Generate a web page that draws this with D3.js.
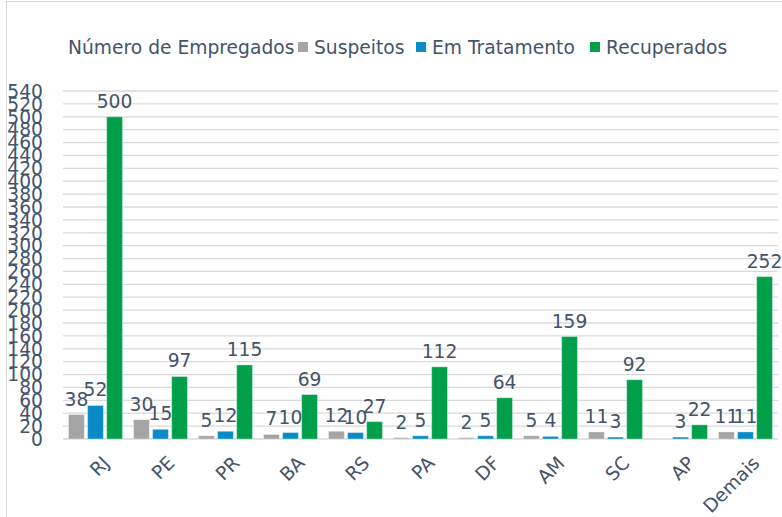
<!DOCTYPE html>
<html>
<head>
<meta charset="utf-8">
<script src="https://cdn.jsdelivr.net/npm/d3@7"></script>
<style>
  body { margin: 0; background: #fff; }
  text { font-family: "DejaVu Sans", Verdana, sans-serif; fill: #44546a; }
</style>
</head>
<body>
<script>
var width = 782,
  height = 517;

var categories = ["RJ", "PE", "PR", "BA", "RS", "PA", "DF", "AM", "SC", "AP", "Demais"];
var suspeitos = [38, 30, 5, 7, 12, 2, 2, 5, 11, null, 11];
var emTratamento = [52, 15, 12, 10, 10, 5, 5, 4, 3, 3, 11];
var recuperados = [500, 97, 115, 69, 27, 112, 64, 159, 92, 22, 252];
var seriesNames = ["Suspeitos", "Em Tratamento", "Recuperados"];
var yTicks = d3.range(0, 541, 20);

var colors = ["#a5a5a5", "#0a8bc8", "#00a04b"];
var series = [suspeitos, emTratamento, recuperados];
var fs = "18.7px";

var svg = d3.select("body").append("svg")
  .attr("width", width)
  .attr("height", height);

// chart border
svg.append("rect")
  .attr("x", 6.5).attr("y", 1.5)
  .attr("width", 800).attr("height", 600)
  .attr("fill", "none")
  .attr("stroke", "#d9d9d9");

var margin = {left: 63, right: 4, top: 91, bottom: 78};

var x = d3.scaleBand()
  .domain(categories)
  .range([margin.left, width - margin.right])
  .paddingInner(0.17)
  .paddingOuter(0.085);

var xs = d3.scaleBand()
  .domain(seriesNames)
  .range([0, x.bandwidth()])
  .paddingInner(0.17);

var y = d3.scaleLinear()
  .domain([0, 540])
  .range([height - margin.bottom, margin.top]);

// gridlines
svg.append("g")
  .selectAll("line")
  .data(yTicks)
  .enter().append("line")
    .attr("x1", margin.left)
    .attr("x2", width - margin.right)
    .attr("y1", function(d) { return y(d); })
    .attr("y2", function(d) { return y(d); })
    .attr("stroke", "#d9d9d9")
    .attr("stroke-width", 1.3);

// y labels
svg.append("g")
  .selectAll("text")
  .data(yTicks)
  .enter().append("text")
    .attr("x", 43)
    .attr("y", function(d) { return y(d); })
    .attr("dy", "0.36em")
    .attr("text-anchor", "end")
    .style("font-size", fs)
    .text(function(d) { return d; });

// bars
var rows = [];
categories.forEach(function(c, i) {
  series.forEach(function(s, j) {
    rows.push({cat: c, name: seriesNames[j], value: s[i], color: colors[j]});
  });
});

var bars = svg.append("g");
bars.selectAll("rect")
  .data(rows.filter(function(d) { return d.value != null; }))
  .enter().append("rect")
    .attr("x", function(d) { return x(d.cat) + xs(d.name); })
    .attr("y", function(d) { return y(d.value); })
    .attr("width", xs.bandwidth())
    .attr("height", function(d) { return y(0) - y(d.value); })
    .attr("fill", function(d) { return d.color; })
    .attr("stroke", "#ffffff")
    .attr("stroke-opacity", 0.35)
    .attr("stroke-width", 1);

bars.selectAll("text")
  .data(rows.filter(function(d) { return d.value != null; }))
  .enter().append("text")
    .attr("x", function(d) { return x(d.cat) + xs(d.name) + xs.bandwidth() / 2; })
    .attr("y", function(d) { return y(d.value) - 9; })
    .attr("text-anchor", "middle")
    .style("font-size", fs)
    .text(function(d) { return d.value; });

// x labels
svg.append("g")
  .selectAll("text")
  .data(categories)
  .enter().append("text")
    .attr("text-anchor", "end")
    .attr("transform", function(d) {
      return "translate(" + (x(d) + x.bandwidth() / 2 + 6) + "," + 455 + ") rotate(-45)";
    })
    .attr("dy", "0.7em")
    .style("font-size", fs)
    .text(function(d) { return d; });

// title + legend
svg.append("text")
  .attr("x", 68)
  .attr("y", 54)
  .style("font-size", fs)
  .text("Número de Empregados");

var legendX = [298, 416, 590];
seriesNames.forEach(function(name, i) {
  svg.append("rect")
    .attr("x", legendX[i]).attr("y", 42)
    .attr("width", 10).attr("height", 10)
    .attr("fill", colors[i]);
  svg.append("text")
    .attr("x", legendX[i] + 16)
    .attr("y", 54)
    .style("font-size", fs)
    .text(name);
});
</script>
</body>
</html>
